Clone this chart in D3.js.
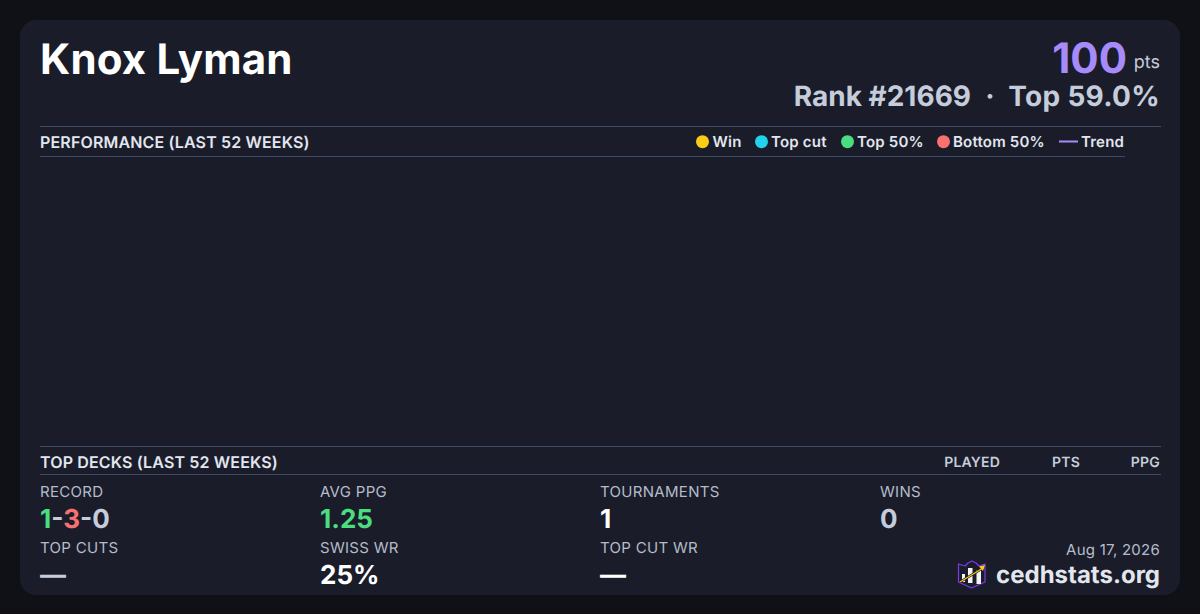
<!DOCTYPE html>
<html>
<head>
<meta charset="utf-8">
<script src="https://d3js.org/d3.v7.min.js"></script>
<style>
html, body { margin: 0; padding: 0; background: #0f1116; overflow: hidden; }
text { font-family: Inter, sans-serif; text-rendering: geometricPrecision; }
</style>
</head>
<body>
<script>
// legend
var legendLabels = ['Win', 'Top cut', 'Top 50%', 'Bottom 50%', 'Trend'];
var legendColors = ['#facc15', '#22d3ee', '#4ade80', '#f87171', '#a78bfa'];
var legendDotX = [702.5, 761.5, 847.5, 943.5];
var legendTextX = [712.5, 771, 857, 953, 1081];

// deck table columns
var deckColumns = ['PLAYED', 'PTS', 'PPG'];
var deckColumnX = [1000, 1080, 1160];

// stat blocks
var statLabels = ['RECORD', 'AVG PPG', 'TOURNAMENTS', 'WINS', 'TOP CUTS', 'SWISS WR', 'TOP CUT WR'];
var statValues = [null, '1.25', '1', '0', '—', '25%', '—'];
var statColors = [null, '#4ade80', '#ffffff', '#c5ccdb', '#c5ccdb', '#ffffff', '#ffffff'];
var statX = [40, 320, 600, 880, 40, 320, 600];
var statRow = [0, 0, 0, 0, 1, 1, 1];
var recordParts = ['1', '-', '3', '-', '0'];
var recordColors = ['#4ade80', '#c5ccdb', '#f87171', '#c5ccdb', '#c5ccdb'];

// no games to plot in the performance window
var points = [];

var width = 1200, height = 614;
var svg = d3.select('body').append('svg').attr('width', width).attr('height', height).style('display', 'block');

svg.append('rect').attr('width', width).attr('height', height).attr('fill', '#0f1116');
svg.append('rect').attr('x', 20).attr('y', 20).attr('width', 1160).attr('height', 575).attr('rx', 16).attr('fill', '#1a1d29');

function label(x, y, str, size, weight, fill, anchor, spacing) {
	return svg.append('text').attr('x', x).attr('y', y).attr('font-size', size).attr('font-weight', weight)
		.attr('fill', fill).attr('text-anchor', anchor || 'start').attr('letter-spacing', spacing || 0).text(str);
}

function rule(x1, x2, y) {
	svg.append('line').attr('x1', x1).attr('x2', x2).attr('y1', y).attr('y2', y).attr('stroke', '#3d4a63').attr('stroke-width', 1);
}

//header
label(40, 74, 'Knox Lyman', 42, 700, '#ffffff', 'start', 0.2);
label(1127, 73, '100', 42, 700, '#a78bfa', 'end');
label(1160, 68, 'pts', 18, 400, '#c5ccdb', 'end');
label(971, 106, 'Rank #21669', 28, 700, '#c5ccdb', 'end');
label(990, 106, '·', 28, 700, '#c5ccdb', 'middle');
label(1160, 106, 'Top 59.0%', 28, 700, '#c5ccdb', 'end', 0.3);

//performance section
rule(40, 1161, 126.5);
rule(40, 1125, 156.5);
label(40, 148, 'PERFORMANCE (LAST 52 WEEKS)', 16, 600, '#e2e6ef', 'start', 0.15);

legendLabels.forEach(function (d, i) {
	if (i < 4) {
		svg.append('circle').attr('cx', legendDotX[i]).attr('cy', 141.7).attr('r', 6.5).attr('fill', legendColors[i]);
	} else {
		svg.append('line').attr('x1', 1059).attr('x2', 1078).attr('y1', 141.5).attr('y2', 141.5).attr('stroke', legendColors[i]).attr('stroke-width', 2);
	}
	label(legendTextX[i], 147, d, 15, 600, '#e2e6ef', 'start', 0.2);
});

//empty plot area, scales still drive whatever points exist
var x = d3.scaleLinear().domain([0, 52]).range([40, 1125]);
var y = d3.scaleLinear().domain([0, 1]).range([440, 165]);
svg.append('g').selectAll('circle').data(points).enter().append('circle')
	.attr('cx', function (d) { return x(d.week); })
	.attr('cy', function (d) { return y(d.value); })
	.attr('r', 4);

//top decks section
rule(40, 1161, 446.5);
rule(40, 1161, 474.5);
label(40, 468, 'TOP DECKS (LAST 52 WEEKS)', 16, 600, '#e2e6ef', 'start', 0.15);
deckColumns.forEach(function (d, i) {
	label(deckColumnX[i], 467, d, 14, 600, '#c5ccdb', 'end', 0.2);
});

//stats
var labelY = [497, 553];
var valueY = [528, 584];
statLabels.forEach(function (d, i) {
	label(statX[i], labelY[statRow[i]], d, 15, 400, '#b4bccb', 'start', 0.3);
	if (statValues[i] !== null) {
		label(statX[i], valueY[statRow[i]], statValues[i], 26, 700, statColors[i]);
	}
});
var record = label(statX[0], valueY[0], '', 26, 700, '#c5ccdb');
recordParts.forEach(function (d, i) {
	record.append('tspan').attr('fill', recordColors[i]).text(d);
});

//footer
label(1160, 555, 'Aug 17, 2026', 15, 400, '#b4bccb', 'end', 0.25);
label(1160, 583, 'cedhstats.org', 24, 700, '#e2e6ef', 'end');

//logo
var logo = svg.append('g').attr('transform', 'translate(958,560)');
logo.append('path').attr('d', 'M0.5 4 L7 6 L10 3 L14 1 L18 3 L21 6 L27 4 L27 22 L13.5 28 L0.5 22 Z')
	.attr('fill', '#1a1d29').attr('stroke', '#7c3aed').attr('stroke-width', 1.2).attr('stroke-linejoin', 'round');
[[4, 14, 3, 8], [10, 8, 4.5, 15], [18.5, 10, 4.5, 14]].forEach(function (b) {
	logo.append('rect').attr('x', b[0]).attr('y', b[1]).attr('width', b[2]).attr('height', b[3]).attr('fill', '#f1f3f7');
});
logo.append('line').attr('x1', 2).attr('y1', 22).attr('x2', 25).attr('y2', 8).attr('stroke', '#14161f').attr('stroke-width', 2.6);
logo.append('line').attr('x1', 2).attr('y1', 22).attr('x2', 25).attr('y2', 8).attr('stroke', '#facc15').attr('stroke-width', 1.2);
logo.append('path').attr('d', 'M21 6.5 L27 5 L25 11 Z').attr('fill', '#facc15');
</script>
</body>
</html>
